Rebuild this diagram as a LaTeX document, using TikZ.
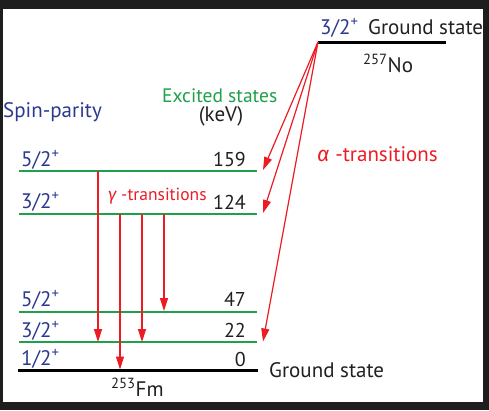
\documentclass[tikz,border=0pt]{standalone}
\usepackage{fontspec}
\setmainfont{PT Sans}
\newfontfamily\grk{Fira Sans}
\usetikzlibrary{arrows.meta}
\definecolor{spblue}{HTML}{2B3990}
\definecolor{exgreen}{HTML}{1FA04A}
\definecolor{trred}{HTML}{ED1C24}
\definecolor{frame}{HTML}{1E1E1E}
\definecolor{txt}{HTML}{231F20}
\begin{document}
\begin{tikzpicture}[x=1pt,y=-1pt,
  lbl/.style={inner sep=0pt, font=\fontsize{21}{24}\selectfont},
  spin/.style={lbl, text=spblue, anchor=base west},
  energy/.style={lbl, text=txt, anchor=base east, font=\fontsize{20}{24}\selectfont},
  exline/.style={draw=exgreen, line width=2pt},
  gsline/.style={draw=black, line width=3pt},
  tr/.style={draw=trred, line width=1.2pt, -{Triangle[length=13pt,width=8pt]}}]
\fill[frame] (0,0) rectangle (489,410);
\fill[white] (3,9) rectangle (483,402);
\useasboundingbox (0,0) rectangle (489,410);
% level end points
\coordinate (Ntop) at (318,42);
\coordinate (Ntopr) at (446,42);
\coordinate (A) at (19,171); \coordinate (Ar) at (257,171);
\coordinate (B) at (19,214); \coordinate (Br) at (257,214);
\coordinate (C) at (19,312); \coordinate (Cr) at (257,312);
\coordinate (D) at (19,342); \coordinate (Dr) at (257,342);
\coordinate (E) at (18,370); \coordinate (Er) at (258,370);
\draw[gsline] (Ntop) -- (Ntopr);
\draw[exline] (A) -- (Ar);
\draw[exline] (B) -- (Br);
\draw[exline] (C) -- (Cr);
\draw[exline] (D) -- (Dr);
\draw[gsline] (E) -- (Er);
% labels
\node[spin] (sN) at (320,34) {3/2\textsuperscript{+}};
\node[lbl, text=txt, anchor=base west] (gsN) at (368,34) {Ground state};
\node[lbl, text=txt, anchor=base west] (No) at (363,72) {\textsuperscript{257}No};
\node[lbl, text=spblue, anchor=base west] (sp) at (3,117) {Spin-parity};
\node[lbl, text=exgreen, anchor=base west, font=\fontsize{19.5}{22}\selectfont] (ex) at (162,102) {Excited states};
\node[lbl, text=txt, anchor=base] (kev) at (221,121) {(keV)};
\node[spin] (s1) at (21,166) {5/2\textsuperscript{+}};
\node[energy] (e1) at (246,166) {159};
\node[spin] (s2) at (21,208) {3/2\textsuperscript{+}};
\node[energy] (e2) at (246,209) {124};
\node[spin] (s3) at (21,306) {5/2\textsuperscript{+}};
\node[energy] (e3) at (246,306) {47};
\node[spin] (s4) at (21,337) {3/2\textsuperscript{+}};
\node[energy] (e4) at (246,337) {22};
\node[spin] (s5) at (21,365) {1/2\textsuperscript{+}};
\node[energy] (e5) at (246,366) {0};
\node[lbl, text=txt, anchor=base west] (gsF) at (269,377) {Ground state};
\node[lbl, text=txt, anchor=base west] (Fm) at (111,396) {\textsuperscript{253}Fm};
\node[lbl, text=trred, anchor=base west, font=\fontsize{17.5}{20}\selectfont] (gt) at (108,200) {{\grk\itshape γ} -transitions};
\node[lbl, text=trred, anchor=base west] (at) at (317,161) {{\grk\itshape α} -transitions};
% gamma transitions
\coordinate (g1s) at (98,171); \coordinate (g1e) at (98,342);
\coordinate (g2s) at (120,214); \coordinate (g2e) at (120,369.5);
\coordinate (g3s) at (142,214); \coordinate (g3e) at (142,342);
\coordinate (g4s) at (164,214); \coordinate (g4e) at (164,311);
\draw[tr] (g1s) -- (g1e);
\draw[tr] (g2s) -- (g2e);
\draw[tr] (g3s) -- (g3e);
\draw[tr] (g4s) -- (g4e);
% alpha transitions
\coordinate (a1) at (263,170);
\coordinate (a2) at (263,213);
\coordinate (a3) at (263,341.5);
\draw[tr] (Ntop) -- (a1);
\draw[tr] (Ntop) -- (a2);
\draw[tr] (Ntop) -- (a3);
\end{tikzpicture}
\end{document}
